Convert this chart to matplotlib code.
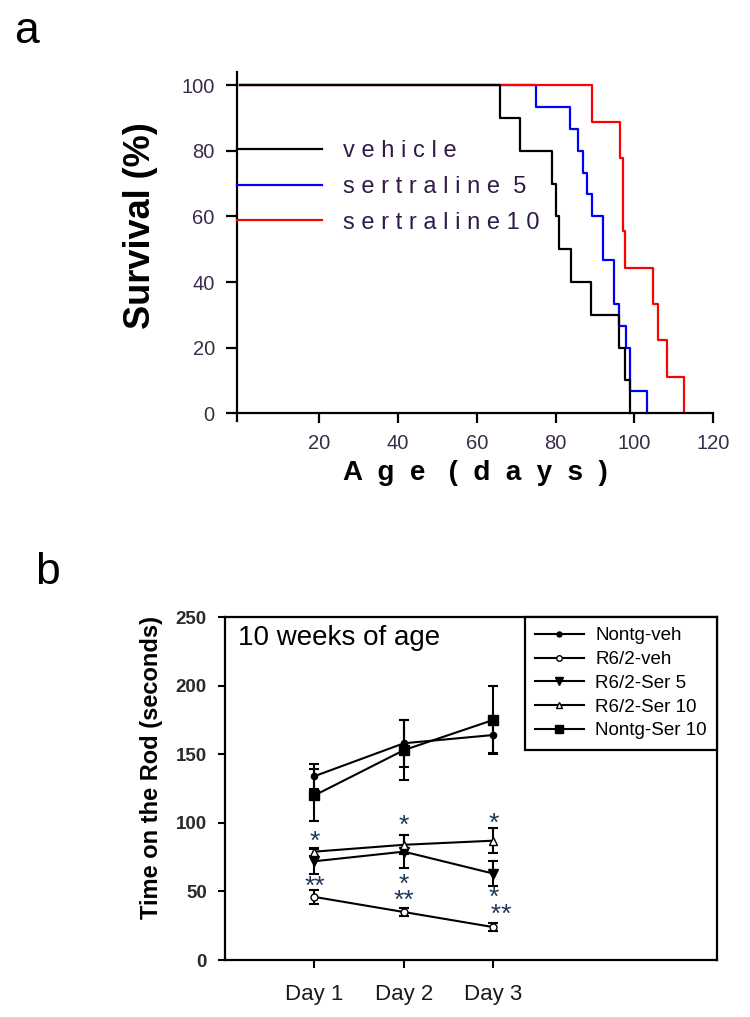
import matplotlib
matplotlib.use("Agg")
import matplotlib.pyplot as plt
from matplotlib.lines import Line2D

plt.rcParams['font.family'] = ['Liberation Sans', 'DejaVu Sans']

# panel a: survival (Kaplan-Meier style steps)
veh_days = [0, 66, 71, 79, 80, 81, 84, 89, 96, 97.5, 99]
veh_surv = [100, 90, 80, 70, 60, 50, 40, 30, 20, 10, 0]
ser5_days = [0, 75, 83.7, 85.8, 86.9, 87.9, 89.2, 92, 94.9, 96.2, 97.9, 98.9, 103.3]
ser5_surv = [100, 93.3, 86.7, 80, 73.3, 66.7, 60, 46.7, 33.3, 26.7, 20, 6.7, 0]
ser10_days = [0, 89.2, 96.3, 97.2, 97.6, 104.8, 105.9, 108.2, 112.6]
ser10_surv = [100, 88.9, 77.8, 55.6, 44.4, 33.3, 22.2, 11.1, 0]
surv_labels = ['v e h i c l e', 's e r t r a l i n e  5', 's e r t r a l i n e 1 0']
age_ticks = [20, 40, 60, 80, 100, 120]
surv_ticks = [0, 20, 40, 60, 80, 100]

# panel b: rotarod
days = [1, 2, 3]
day_labels = ['Day 1', 'Day 2', 'Day 3']
nontg_veh = [134, 158, 164]
nontg_veh_err = [9, 17, 13]
r62_veh = [46, 35, 24]
r62_veh_err = [5, 3, 3]
r62_ser5 = [72, 79, 63]
r62_ser5_err = [9, 12, 9]
r62_ser10 = [79, 84, 87]
r62_ser10_err = [3, 7, 9]
nontg_ser10 = [120, 153, 175]
nontg_ser10_err = [19, 22, 25]
rod_ticks = [0, 50, 100, 150, 200, 250]
# significance marks (stacked marks share one text)
star_x = [1, 1, 2, 2, 3, 3]
star_y = [86, 53, 98, 49, 99.5, 39]
star_txt = ['*', '**', '*', '*\n**', '*', '*\n  **']

fig = plt.figure(figsize=(7.5, 10.17), dpi=100)

# ---------------- panel a ----------------
ax1 = fig.add_axes([0.316, 0.586, 0.635, 0.343])
ax1.step(ser5_days, ser5_surv, where='post', color='#0000ff', lw=1.6, label=surv_labels[1])
ax1.step(ser10_days, ser10_surv, where='post', color='#ff0000', lw=1.6, label=surv_labels[2])
ax1.step(veh_days, veh_surv, where='post', color='black', lw=1.6, label=surv_labels[0])
ax1.set_xlim(-0.8, 120)
ax1.set_ylim(-2.4, 104)
ax1.spines['top'].set_visible(False)
ax1.spines['right'].set_visible(False)
ax1.spines['bottom'].set_position(('data', 0))
for s in ('left', 'bottom'):
    ax1.spines[s].set_linewidth(1.6)
ax1.set_xticks(age_ticks)
ax1.set_yticks(surv_ticks)
ax1.tick_params(axis='y', direction='out', length=8, width=1.6, pad=8,
                labelsize=14.5, labelcolor='#3a2d4a')
ax1.tick_params(axis='x', direction='out', length=7, width=1.6, pad=8,
                labelsize=14.5, labelcolor='#3a2d4a')
ax1.set_ylabel('Survival (%)', fontsize=26, fontweight='bold')
ax1.yaxis.set_label_coords(-0.166, 0.56)
ax1.set_xlabel('A  g  e   (  d  a  y  s  )', fontsize=20, fontweight='bold', labelpad=5)

h, l = ax1.get_legend_handles_labels()
order = [2, 0, 1]
leg1 = ax1.legend([h[i] for i in order], [l[i] for i in order], loc='upper left',
                  bbox_to_anchor=(0.0, 0.805), frameon=False, fontsize=17,
                  handlelength=3.6, handletextpad=0.9, labelspacing=0.58,
                  borderpad=0, borderaxespad=0)
for t in leg1.get_texts():
    t.set_color('#301a4a')

fig.text(0.036, 0.958, 'a', fontsize=32, ha='center', va='baseline')

# ---------------- panel b ----------------
ax2 = fig.add_axes([0.30, 0.056, 0.656, 0.3373])
ekw = dict(color='black', lw=1.5, elinewidth=1.5, capsize=3.5, capthick=1.5)
series = [
    ('Nontg-veh', nontg_veh, nontg_veh_err, 'o', 4.5, 'black'),
    ('R6/2-veh', r62_veh, r62_veh_err, 'o', 5, 'white'),
    ('R6/2-Ser 5', r62_ser5, r62_ser5_err, 'v', 7, 'black'),
    ('R6/2-Ser 10', r62_ser10, r62_ser10_err, '^', 6, 'white'),
    ('Nontg-Ser 10', nontg_ser10, nontg_ser10_err, 's', 7, 'black'),
]
handles = []
for name, vals, err, mk, ms, fc in series:
    ax2.errorbar(days, vals, yerr=err, marker=mk, ms=ms, mfc=fc, mec='black', **ekw)
    handles.append(Line2D([], [], color='black', lw=1.5, marker=mk,
                          ms=ms * 0.8, mfc=fc, mec='black', label=name))
for x, y, t in zip(star_x, star_y, star_txt):
    ax2.text(x, y, t, ha='center', va='center', fontsize=19, color='#1f3a5a',
             linespacing=0.62)

ax2.set_xlim(0, 5.5)
ax2.set_ylim(0, 250)
ax2.set_xticks(days)
ax2.set_xticklabels(day_labels)
ax2.set_yticks(rod_ticks)
for s in ax2.spines.values():
    s.set_linewidth(1.6)
ax2.tick_params(axis='y', direction='out', length=5, width=1.5, pad=8, labelsize=13.5,
                labelcolor='#2b2b2b')
for t in ax2.get_yticklabels():
    t.set_fontweight('bold')
ax2.tick_params(axis='x', direction='out', length=6, width=1.5, pad=11, labelsize=16,
                labelcolor='#1a1a1a')
ax2.set_ylabel('Time on the Rod (seconds)', fontsize=17, fontweight='bold')
ax2.yaxis.set_label_coords(-0.126, 0.56)
ax2.text(0.027, 0.94, '10 weeks of age', transform=ax2.transAxes, fontsize=20,
         ha='left', va='center')

leg2 = ax2.legend(handles=handles, loc='upper right', fontsize=13.5, frameon=True,
                  fancybox=False, edgecolor='black', handlelength=2.6,
                  handletextpad=0.6, labelspacing=0.35, borderaxespad=0,
                  borderpad=0.55)
leg2.get_frame().set_linewidth(1.6)
leg2.get_frame().set_alpha(1)

fig.text(0.064, 0.426, 'b', fontsize=32, ha='center', va='baseline')

fig.savefig('out.png', dpi=100, facecolor='white')
